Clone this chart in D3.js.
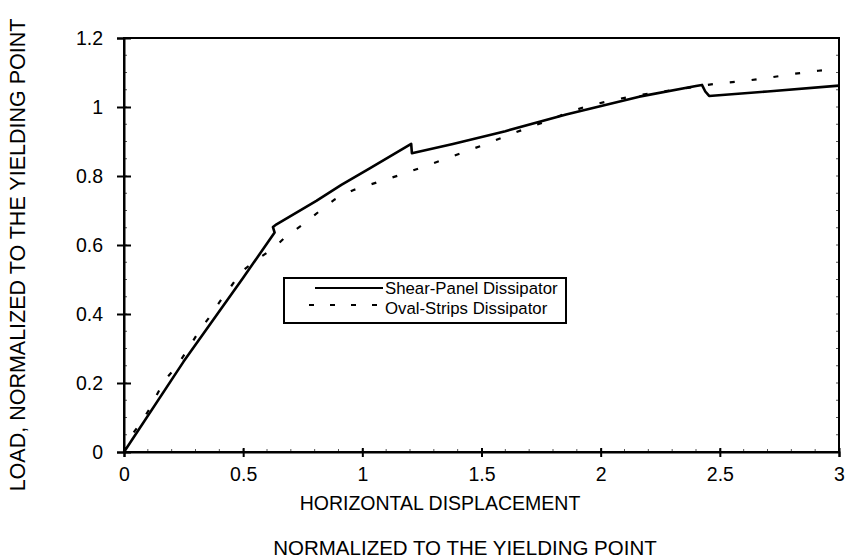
<!DOCTYPE html>
<html><head><meta charset="utf-8">
<script src="https://cdn.jsdelivr.net/npm/d3@7"></script>
<style>body{margin:0;background:#fff}svg{display:block}text{font-family:Arial,"Liberation Sans",sans-serif;fill:#000}</style>
</head><body><svg id="c" width="845" height="558"></svg>
<script>
const shearX = [0, 0.25, 0.5, 0.632, 0.625, 0.64, 0.807, 0.912, 1.031, 1.205, 1.208, 1.38, 1.6, 1.855, 2.162, 2.40, 2.425, 2.439, 2.455, 2.7, 3.0];
const shearY = [0, 0.262, 0.505, 0.636, 0.652, 0.66, 0.728, 0.774, 0.822, 0.893, 0.866, 0.893, 0.93, 0.978, 1.030, 1.061, 1.064, 1.045, 1.032, 1.045, 1.062];
const ovalX = [0, 0.032, 0.074, 0.109, 0.137, 0.172, 0.221, 0.27, 0.318, 0.36, 0.40, 0.444, 0.493, 0.556, 0.626, 0.682, 0.754, 0.818, 0.884, 0.961, 1.059, 1.149, 1.237, 1.335, 1.429, 1.52, 1.614, 1.701, 1.785, 1.855, 1.945, 2.064, 2.169, 2.40, 2.49, 2.599, 2.707, 2.809, 2.913, 3.0];
const ovalY = [0, 0.049, 0.088, 0.127, 0.165, 0.209, 0.248, 0.30, 0.354, 0.392, 0.434, 0.475, 0.523, 0.557, 0.590, 0.626, 0.661, 0.697, 0.732, 0.759, 0.781, 0.801, 0.822, 0.846, 0.870, 0.893, 0.919, 0.941, 0.962, 0.982, 1.003, 1.022, 1.035, 1.059, 1.068, 1.075, 1.085, 1.096, 1.105, 1.112];
const xTicks = [0, 0.5, 1, 1.5, 2, 2.5, 3];
const yTicks = [0, 0.2, 0.4, 0.6, 0.8, 1, 1.2];
const seriesNames = ["Shear-Panel Dissipator", "Oval-Strips Dissipator"];
const xTitle = ["HORIZONTAL DISPLACEMENT", "NORMALIZED TO THE YIELDING POINT"];
const yTitle = "LOAD, NORMALIZED TO THE YIELDING POINT";

const svg = d3.select("#c");
const L = 124, R = 839, T = 38, B = 452;
const x = d3.scaleLinear().domain([0, 3]).range([L, R]);
const y = d3.scaleLinear().domain([0, 1.2]).range([B, T]);

// minor ticks
const g = svg.append("g");
g.selectAll(".mny").data(d3.range(0, 1.2001, 0.05)).enter().append("line")
  .attr("x1", L).attr("x2", L + 3).attr("y1", d => y(d)).attr("y2", d => y(d))
  .attr("stroke", "#555").attr("stroke-width", 1);
g.selectAll(".mnyr").data(d3.range(0, 1.2001, 0.05)).enter().append("line")
  .attr("x1", R - 3).attr("x2", R).attr("y1", d => y(d)).attr("y2", d => y(d))
  .attr("stroke", "#555").attr("stroke-width", 1);
g.selectAll(".mnx").data(d3.range(0, 3.001, 0.1)).enter().append("line")
  .attr("x1", d => x(d)).attr("x2", d => x(d)).attr("y1", B).attr("y2", B - 3)
  .attr("stroke", "#555").attr("stroke-width", 1);

// frame
svg.append("rect").attr("x", L).attr("y", T).attr("width", R - L).attr("height", B - T)
  .attr("fill", "none").attr("stroke", "#000").attr("stroke-width", 2);

// axes
const xAxis = d3.axisBottom(x).tickValues(xTicks).tickFormat(d3.format("~g")).tickSize(5).tickPadding(10);
const yAxis = d3.axisLeft(y).tickValues(yTicks).tickFormat(d3.format("~g")).tickSize(7).tickPadding(14);
const gx = svg.append("g").attr("transform", `translate(0,${B})`).call(xAxis);
const gy = svg.append("g").attr("transform", `translate(${L},0)`).call(yAxis);
[gx, gy].forEach(a => {
  a.select(".domain").attr("stroke", "#000").attr("stroke-width", 2);
  a.selectAll(".tick line").attr("stroke", "#000").attr("stroke-width", 2);
  a.selectAll(".tick text").attr("font-size", 19.5).attr("font-family", "Arial, 'Liberation Sans', sans-serif").attr("fill", "#000");
});
gx.selectAll(".tick line").attr("y1", -4);
gy.selectAll(".tick line").attr("x1", 7);

// lines
const line = d3.line().x(d => x(d[0])).y(d => y(d[1]));
const shear = shearX.map((v, i) => [v, shearY[i]]);
const oval = ovalX.map((v, i) => [v, ovalY[i]]);
svg.append("path").attr("d", line(oval)).attr("fill", "none").attr("stroke", "#000")
  .attr("stroke-width", 2.2).attr("stroke-dasharray", "5,17");
svg.append("path").attr("d", line(shear)).attr("fill", "none").attr("stroke", "#000")
  .attr("stroke-width", 2.6).attr("stroke-linejoin", "round");

// legend
const lg = svg.append("g");
lg.append("rect").attr("x", 284).attr("y", 278).attr("width", 282).attr("height", 45)
  .attr("fill", "#fff").attr("stroke", "#000").attr("stroke-width", 2);
lg.append("line").attr("x1", 315).attr("x2", 383).attr("y1", 288).attr("y2", 288)
  .attr("stroke", "#000").attr("stroke-width", 2);
lg.append("line").attr("x1", 309).attr("x2", 380).attr("y1", 305).attr("y2", 305)
  .attr("stroke", "#000").attr("stroke-width", 2).attr("stroke-dasharray", "5,16");
lg.selectAll("text").data(seriesNames).enter().append("text")
  .attr("x", 385).attr("y", (d, i) => 294 + i * 20).attr("font-size", 16.8).text(d => d);

// titles
svg.append("text").attr("x", 440).attr("y", 510).attr("text-anchor", "middle")
  .attr("font-size", 19.5).text(xTitle[0]);
svg.append("text").attr("x", 465).attr("y", 555).attr("text-anchor", "middle")
  .attr("font-size", 20.5).text(xTitle[1]);
svg.append("text").attr("transform", "translate(25,255) rotate(-90)").attr("text-anchor", "middle")
  .attr("font-size", 21.5).text(yTitle);
</script></body></html>
